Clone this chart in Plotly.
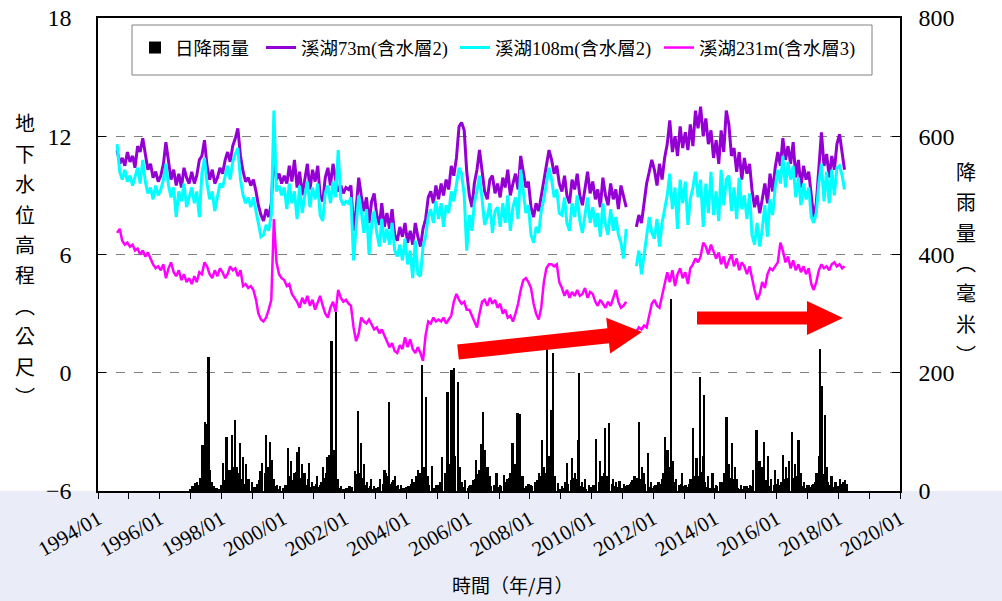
import pandas as pd
import plotly.graph_objects as go

# 月資料 (每月 15 日) 1994/08 ~ 2018/03，單位：公尺
well_73m = [
    11.3, 10.6, 10.9, 10.5, 11.2,
    10.7, 11.0, 10.4, 11.5, 11.2, 11.9, 11.0, 10.3, 10.6, 9.9, 10.2, 9.7,
    10.0, 10.6, 11.7, 10.8, 9.8, 10.3, 9.5, 10.1, 9.4, 10.4, 9.9, 9.6,
    10.2, 9.6, 10.0, 10.8, 11.0, 11.8, 10.5, 9.8, 10.3, 9.6, 9.9, 10.4,
    10.1, 10.8, 11.2, 10.7, 11.5, 11.9, 12.4, 11.0, 10.2, 9.7, 9.9, 9.5,
    9.8, 9.2, 8.5, 8.0, 7.7, 8.3, 7.9, 8.6, 11.1, 9.8, 10.1, 9.6,
    10.0, 9.6, 10.5, 9.7, 10.8, 9.4, 10.2, 9.0, 9.8, 10.6, 9.3, 10.3,
    9.7, 10.5, 9.0, 8.7, 9.9, 10.4, 9.5, 10.6, 9.8, 9.2, 9.5, 9.1,
    9.4, 9.3, 9.5, 7.2, 8.3, 9.9, 9.0, 8.2, 8.9, 7.6, 8.7, 9.1,
    8.0, 7.5, 8.6, 7.4, 8.1, 7.3, 8.3, 7.0, 6.7, 7.4, 6.9, 7.6,
    6.6, 7.2, 6.5, 7.6, 6.9, 6.4, 7.3, 7.8, 8.9, 9.2, 8.6, 9.5,
    8.8, 9.6, 9.0, 9.8, 9.3, 10.5, 10.0, 10.9, 12.5, 12.7, 12.3, 10.2,
    9.0, 8.4, 9.6, 10.3, 11.3, 10.1, 9.2, 8.8, 9.8, 10.0, 9.1, 9.6,
    8.9, 9.9, 9.4, 10.3, 9.0, 9.6, 10.1, 9.3, 11.0, 10.2, 9.4, 9.7,
    8.4, 7.9, 8.6, 8.2, 9.0, 9.7, 10.4, 11.3, 10.8, 10.1, 10.5, 9.6,
    9.2, 10.0, 9.0, 8.6, 9.8, 9.3, 10.1, 9.0, 8.5, 9.4, 10.2, 9.1,
    9.7, 8.8, 9.3, 8.4, 9.9, 9.0, 8.5, 9.6, 8.8, 9.3, 8.3, 9.5,
    9.0, 8.4, None, None, None, 7.4, 8.0, 7.6, 8.5, 9.6, 10.2, 10.8,
    10.3, 9.5, 10.6, 9.8, 10.9, 11.6, 12.8, 11.2, 12.0, 11.0, 12.5, 11.4,
    12.2, 11.3, 12.6, 11.5, 13.3, 12.4, 13.5, 12.0, 12.9, 11.6, 12.3, 10.9,
    11.8, 10.6, 12.3, 11.2, 13.3, 12.6, 11.0, 11.4, 10.2, 11.2, 9.8, 10.9,
    10.1, 10.6, 9.3, 8.4, 9.0, 8.1, 8.8, 9.6, 8.6, 10.1, 9.2, 10.4,
    11.2, 10.5, 11.9, 10.8, 11.5, 10.6, 11.7, 9.9, 10.8, 9.4, 10.5, 9.8,
    10.2, 8.8, 7.9, 8.6, 10.4, 12.2, 10.5, 11.1, 9.9, 11.0, 10.3, 11.6,
    12.1, 11.0, 10.3,
]

well_108m = [
    11.6, 10.2, 9.8, 10.3, 9.7,
    10.0, 9.5, 9.9, 10.4, 9.6, 10.8, 9.7, 9.1, 9.4, 8.8, 9.5, 9.0,
    9.3, 9.8, 10.6, 9.5, 8.9, 9.4, 7.9, 9.2, 8.7, 9.6, 8.4, 8.9,
    9.4, 8.6, 9.2, 7.9, 10.1, 10.9, 9.6, 8.8, 9.2, 8.2, 9.0, 9.6,
    9.4, 10.0, 10.5, 9.8, 10.7, 11.1, 11.4, 9.8, 9.0, 8.6, 8.9, 8.4,
    8.9, 8.2, 7.6, 6.9, 7.0, 7.5, 7.2, 8.0, 13.3, 9.2, 9.5, 9.0,
    9.4, 8.3, 9.6, 8.6, 9.2, 7.8, 9.5, 8.1, 9.0, 9.7, 8.4, 9.4,
    8.8, 9.6, 8.0, 7.7, 9.1, 9.5, 8.6, 9.7, 8.9, 11.3, 8.8, 8.5,
    8.7, 8.6, 8.9, 5.7, 7.4, 9.0, 8.2, 7.1, 8.3, 6.0, 7.5, 8.2,
    7.1, 6.4, 7.8, 6.6, 7.3, 6.5, 7.6, 6.2, 5.9, 6.5, 5.7, 6.8,
    5.5, 6.2, 4.8, 6.7, 5.0, 4.9, 6.4, 6.9, 7.9, 8.3, 7.6, 8.7,
    7.8, 8.6, 7.4, 8.5, 8.1, 9.2, 8.7, 9.6, 10.4, 10.1, 9.0, 6.2,
    8.0, 7.2, 8.6, 9.2, 10.0, 8.8, 7.5, 7.9, 8.6, 7.1, 8.2, 8.4,
    7.4, 8.6, 7.6, 9.0, 7.2, 8.4, 8.9, 7.8, 10.3, 9.2, 8.1, 8.5,
    7.0, 6.6, 7.4, 7.1, 8.2, 8.8, 9.6, 10.4, 9.8, 8.9, 9.3, 8.1,
    8.0, 8.9, 7.6, 7.2, 8.6, 7.9, 9.0, 7.7, 7.1, 8.0, 8.9, 7.6,
    8.4, 7.4, 8.1, 6.9, 8.6, 7.5, 7.0, 8.3, 7.2, 7.9, 7.0, 6.6,
    5.8, 7.3, None, None, None, 5.4, 6.2, 5.0, 6.0, 6.7, 7.9, 7.1,
    6.8, 7.8, 6.4, 7.6, 8.2, 9.0, 10.1, 8.3, 9.4, 7.3, 9.8, 8.6,
    9.7, 7.5, 8.8, 9.4, 10.2, 8.9, 9.8, 7.4, 9.6, 8.1, 10.2, 8.0,
    9.2, 7.7, 10.3, 8.5, 9.8, 10.0, 8.2, 9.4, 7.8, 9.9, 8.3, 9.0,
    7.8, 9.1, 7.0, 6.5, 7.6, 6.4, 7.3, 8.5, 6.9, 8.8, 8.0, 9.4,
    10.3, 9.6, 11.0, 9.4, 10.7, 9.8, 10.5, 8.9, 9.9, 8.5, 9.6, 8.8,
    9.4, 7.9, 7.6, 8.1, 9.6, 10.6, 8.7, 10.2, 8.6, 10.3, 9.0, 10.4,
    10.5, 10.0, 9.3,
]

well_231m = [
    7.1, 7.3, 6.7, 6.5, 6.6,
    6.4, 6.5, 6.2, 6.3, 6.0, 6.2, 5.9, 6.1, 5.8, 5.5, 5.3, 5.4,
    5.2, 5.5, 4.8, 5.3, 5.6, 5.1, 4.9, 5.2, 4.7, 5.0, 4.6, 4.8,
    4.5, 4.9, 4.6, 5.1, 5.0, 5.6, 5.4, 5.0, 4.8, 5.2, 4.9, 5.3,
    5.1, 4.8, 5.0, 5.4, 5.2, 5.3, 4.9, 5.2, 4.4, 4.5, 4.3, 4.4,
    4.2, 3.7, 3.0, 2.7, 2.6, 2.8, 3.2, 3.7, 7.8, 5.6, 5.0, 4.8,
    4.7, 4.4, 4.5, 4.0, 3.8, 3.6, 3.3, 3.8, 3.5, 3.9, 3.4, 3.7,
    3.2, 3.6, 3.9, 3.4, 3.0, 2.8, 3.3, 3.6, 3.1, 4.2, 3.8, 3.6,
    3.7, 3.5, 3.4, 2.3, 1.6, 2.0, 2.8, 2.6, 2.5, 2.7, 2.4, 2.2,
    2.3, 2.0, 2.2, 1.9, 1.6, 1.3, 1.5, 1.1, 1.0, 1.4, 1.2, 1.8,
    1.3, 1.7, 1.2, 1.0, 1.3, 1.0, 0.6, 1.9, 2.6, 2.5, 2.8, 2.6,
    2.7, 2.6, 2.8, 2.5, 2.7, 2.9, 3.6, 4.0, 3.7, 3.5, 3.6, 3.2,
    3.2, 2.9, 2.6, 2.3, 3.0, 3.6, 3.7, 3.4, 3.8, 3.5, 3.7, 3.3,
    3.5, 3.0, 3.2, 2.8, 2.9, 2.6, 3.0, 3.5, 4.2, 4.7, 4.8, 4.6,
    4.3, 3.5, 3.0, 2.7, 3.3, 4.6, 5.3, 5.5, 5.5, 5.4, 5.5, 4.6,
    4.3, 3.9, 4.2, 3.8, 4.1, 3.9, 4.2, 3.9, 4.0, 4.3, 3.8, 4.1,
    4.0, 3.6, 3.4, 3.7, 3.5, 3.3, 3.6, 3.4, 3.8, 4.2, 3.6, 3.3,
    3.4, 3.6, None, None, None, 2.1, 2.3, 2.2, 2.4, 2.3, 2.9, 3.5,
    3.7, 3.4, 3.3, 3.9, 4.5, 5.1, 4.6, 5.2, 4.4, 5.0, 5.3, 4.8,
    5.1, 4.5, 5.3, 5.5, 5.8, 5.6, 5.9, 6.6, 6.4, 6.0, 6.5, 6.2,
    5.8, 6.1, 5.5, 5.9, 5.3, 5.7, 6.0, 5.4, 5.8, 5.2, 5.6, 5.4,
    5.0, 5.4, 4.8, 4.2, 3.7, 4.0, 4.6, 4.3, 5.0, 5.3, 5.2, 5.4,
    5.6, 6.6, 6.2, 5.6, 5.9, 5.3, 5.7, 5.2, 5.5, 5.1, 5.4, 5.0,
    5.3, 4.5, 4.2, 4.6, 5.2, 5.5, 5.3, 5.4, 5.2, 5.5, 5.6, 5.4,
    5.5, 5.3, 5.4,
]

# 日降雨量 (毫米)：較大的降雨事件
rain_dates = [
    "1997-01-20", "1997-02-25", "1997-03-20", "1997-04-15", "1997-05-10", "1997-05-25",
    "1997-06-05", "1997-06-20", "1997-07-01", "1997-07-15", "1997-08-05", "1997-08-20",
    "1997-09-10", "1997-10-05", "1997-11-10",
    "1998-01-20", "1998-03-05", "1998-04-10", "1998-05-05", "1998-06-10", "1998-07-05",
    "1998-08-08", "1998-09-15", "1998-10-20", "1998-11-20", "1998-12-28",
    "1999-01-20", "1999-03-10", "1999-04-05", "1999-05-01", "1999-06-15", "1999-07-10",
    "1999-08-01", "1999-08-22", "1999-09-20", "1999-10-25", "1999-12-01",
    "2000-01-15", "2000-03-01", "2000-04-10", "2000-05-10", "2000-06-15", "2000-07-10",
    "2000-08-15", "2000-09-15", "2000-11-05", "2000-12-10",
    "2001-02-05", "2001-03-15", "2001-04-20", "2001-06-05", "2001-07-01", "2001-07-30",
    "2001-08-15", "2001-09-05", "2001-09-25", "2001-10-10", "2001-11-20",
    "2002-01-20", "2002-03-10", "2002-05-01", "2002-06-05", "2002-07-15", "2002-08-20",
    "2002-09-20", "2002-11-15", "2002-12-20",
    "2003-01-10", "2003-03-01", "2003-04-20", "2003-05-10", "2003-06-15", "2003-07-20",
    "2003-08-20", "2003-09-25", "2003-11-01",
    "2004-01-20", "2004-03-10", "2004-04-25", "2004-05-20", "2004-06-10", "2004-07-02",
    "2004-07-25", "2004-08-25", "2004-09-20", "2004-11-01", "2004-12-15",
    "2005-01-15", "2005-02-25", "2005-04-10", "2005-05-05", "2005-06-10", "2005-06-20",
    "2005-07-18", "2005-08-05", "2005-09-01", "2005-09-25", "2005-10-20", "2005-12-01",
    "2006-01-20", "2006-03-10", "2006-04-10", "2006-05-15", "2006-06-10", "2006-06-25",
    "2006-07-20", "2006-08-20", "2006-09-20", "2006-11-05", "2006-12-05",
    "2007-01-15", "2007-03-01", "2007-04-10", "2007-05-10", "2007-06-12", "2007-07-10",
    "2007-08-10", "2007-09-10", "2007-10-10", "2007-11-20", "2007-12-20",
    "2008-01-20", "2008-03-10", "2008-04-20", "2008-05-28", "2008-06-20", "2008-07-25",
    "2008-08-20", "2008-09-14", "2008-10-02", "2008-10-25", "2008-12-01",
    "2009-01-20", "2009-03-15", "2009-05-15", "2009-06-20", "2009-07-25", "2009-08-08",
    "2009-09-10", "2009-10-20", "2009-12-01",
    "2010-01-20", "2010-03-01", "2010-04-10", "2010-05-10", "2010-06-15", "2010-07-30",
    "2010-09-10", "2010-10-20", "2010-12-01",
    "2011-01-20", "2011-03-10", "2011-04-20", "2011-05-25", "2011-07-15", "2011-08-20",
    "2011-09-20", "2011-10-30", "2011-12-05",
    "2012-01-20", "2012-03-10", "2012-04-20", "2012-05-20", "2012-06-20", "2012-07-10",
    "2012-08-03", "2012-08-25", "2012-09-25", "2012-12-05",
    "2013-01-20", "2013-03-10", "2013-04-15", "2013-05-30", "2013-07-15", "2013-08-15",
    "2013-08-31", "2013-10-10", "2013-12-05",
    "2014-01-20", "2014-03-10", "2014-04-20", "2014-05-20", "2014-06-20", "2014-07-20",
    "2014-08-25", "2014-09-20", "2014-11-10", "2014-12-20",
    "2015-01-20", "2015-02-20", "2015-04-01", "2015-05-10", "2015-06-15", "2015-07-20",
    "2015-08-10", "2015-09-20", "2015-10-25", "2015-12-20",
    "2016-01-20", "2016-03-15", "2016-04-20", "2016-05-25", "2016-07-01", "2016-08-05",
    "2016-09-20", "2016-10-20", "2016-11-20", "2016-12-25",
    "2017-01-20", "2017-03-10", "2017-04-20", "2017-05-25", "2017-06-03", "2017-06-25",
    "2017-07-30", "2017-08-25", "2017-10-15", "2017-12-01",
    "2018-01-20", "2018-02-25", "2018-03-25", "2018-04-15",
]
rain_mm = [
    8, 12, 15, 10, 20, 78, 40, 117, 86, 55, 227, 36, 15, 8, 5,
    47, 92, 35, 95, 120, 40, 81, 58, 45, 20, 15,
    5, 10, 33, 28, 95, 40, 58, 52, 20, 10, 5,
    5, 53, 50, 30, 66, 75, 45, 30, 48, 15,
    25, 10, 40, 58, 35, 253, 45, 70, 303, 20, 8,
    5, 8, 15, 136, 81, 45, 15, 20, 8,
    5, 10, 35, 30, 151, 15, 25, 10, 8,
    8, 20, 25, 35, 30, 213, 40, 159, 25, 30, 10,
    10, 58, 30, 168, 120, 205, 208, 60, 160, 40, 15, 10,
    8, 15, 53, 35, 80, 134, 70, 40, 25, 10, 30,
    10, 15, 20, 30, 81, 45, 132, 130, 25, 8, 12,
    10, 15, 30, 86, 40, 242, 60, 137, 234, 25, 10,
    8, 47, 56, 30, 86, 200, 15, 20, 8,
    10, 66, 50, 25, 107, 115, 20, 15, 12,
    12, 10, 15, 25, 117, 40, 30, 64, 15,
    8, 15, 20, 92, 70, 40, 324, 50, 20, 30,
    10, 20, 107, 55, 193, 60, 163, 25, 30,
    10, 15, 30, 126, 45, 81, 40, 20, 10, 8,
    8, 10, 25, 103, 50, 40, 83, 60, 20, 35,
    20, 61, 40, 50, 75, 45, 86, 30, 15, 10,
    10, 12, 30, 60, 241, 177, 129, 40, 25, 10,
    20, 15, 18, 12,
]

# 日降雨量 (毫米)：每月月初的小雨量，1997/01 ~ 2018/04
rain_base_mm = [
    4, 9, 14, 10, 22, 35, 28, 30, 12, 6, 5, 3,
    10, 18, 22, 15, 28, 40, 25, 30, 20, 12, 8, 6,
    3, 6, 12, 18, 20, 30, 22, 25, 10, 8, 4, 3,
    5, 10, 20, 25, 18, 32, 28, 22, 15, 10, 20, 6,
    8, 12, 6, 15, 22, 30, 26, 35, 18, 10, 5, 4,
    3, 5, 8, 6, 18, 28, 30, 22, 10, 5, 8, 4,
    4, 6, 10, 12, 20, 26, 12, 18, 8, 4, 3, 5,
    6, 8, 12, 15, 20, 30, 28, 35, 15, 10, 12, 5,
    8, 15, 20, 22, 30, 45, 40, 32, 25, 10, 6, 8,
    5, 10, 18, 20, 28, 40, 30, 25, 15, 8, 6, 10,
    6, 8, 12, 15, 22, 30, 25, 28, 20, 10, 5, 6,
    5, 8, 10, 18, 25, 35, 30, 22, 18, 12, 6, 4,
    3, 5, 15, 12, 18, 22, 20, 28, 8, 6, 4, 3,
    6, 10, 22, 15, 20, 30, 25, 20, 12, 8, 6, 5,
    5, 8, 10, 12, 18, 25, 22, 20, 15, 12, 8, 6,
    5, 10, 15, 12, 30, 35, 28, 25, 15, 8, 10, 12,
    8, 6, 12, 20, 25, 30, 26, 32, 15, 6, 5, 8,
    5, 8, 12, 15, 25, 30, 22, 20, 12, 5, 4, 3,
    3, 5, 8, 10, 22, 25, 20, 30, 18, 8, 6, 10,
    12, 10, 15, 20, 22, 28, 25, 22, 25, 12, 8, 5,
    5, 6, 10, 15, 25, 35, 28, 22, 15, 10, 6, 5,
    8, 12, 10, 8,
]

month_dates = pd.date_range("1994-08-01", periods=len(well_73m), freq="MS") + pd.Timedelta(days=14)
base_dates = pd.date_range("1997-01-01", periods=len(rain_base_mm), freq="MS")
bar_x = list(base_dates) + list(pd.to_datetime(rain_dates))
bar_y = rain_base_mm + rain_mm

# 圖框位置 (像素)
PLOT_L, PLOT_R, PLOT_T, PLOT_B = 98, 900, 18, 491
SERIF = "Liberation Serif, Noto Sans CJK TC"
CJK = "Noto Sans CJK TC"


def px_to_paper(x, y):
    return (x - PLOT_L) / (PLOT_R - PLOT_L), (PLOT_B - y) / (PLOT_B - PLOT_T)


def arrow_path(tail, tip, shaft_half, head_half, head_len):
    """紅色箭頭的多邊形路徑 (paper 座標)."""
    dx, dy = tip[0] - tail[0], tip[1] - tail[1]
    length = (dx * dx + dy * dy) ** 0.5
    ux, uy = dx / length, dy / length
    nx, ny = -uy, ux
    bx, by = tip[0] - ux * head_len, tip[1] - uy * head_len
    pts = [
        (tail[0] + nx * shaft_half, tail[1] + ny * shaft_half),
        (bx + nx * shaft_half, by + ny * shaft_half),
        (bx + nx * head_half, by + ny * head_half),
        tip,
        (bx - nx * head_half, by - ny * head_half),
        (bx - nx * shaft_half, by - ny * shaft_half),
        (tail[0] - nx * shaft_half, tail[1] - ny * shaft_half),
    ]
    coords = [px_to_paper(x, y) for x, y in pts]
    return "M " + " L ".join(f"{x:.4f},{y:.4f}" for x, y in coords) + " Z"


fig = go.Figure()
fig.add_trace(
    go.Bar(
        x=bar_x,
        y=bar_y,
        name="日降雨量",
        marker={"color": "black", "line": {"width": 0}},
        width=20 * 86400000,
        yaxis="y2",
        legend="legend",
    )
)
fig.add_trace(
    go.Scatter(x=month_dates, y=well_73m, mode="lines", name="溪湖73m(含水層2)",
               line={"color": "#9400D3", "width": 3}, legend="legend2")
)
fig.add_trace(
    go.Scatter(x=month_dates, y=well_108m, mode="lines", name="溪湖108m(含水層2)",
               line={"color": "#00FFFF", "width": 3}, legend="legend3")
)
fig.add_trace(
    go.Scatter(x=month_dates, y=well_231m, mode="lines", name="溪湖231m(含水層3)",
               line={"color": "#FF00FF", "width": 2.5}, legend="legend4")
)

shapes = [
    # 背景淡藍色 (圖框下方)
    {"type": "rect", "xref": "paper", "yref": "paper", "layer": "below",
     "x0": -0.2, "x1": 1.2, "y0": px_to_paper(0, 601)[1], "y1": px_to_paper(0, 491)[1],
     "fillcolor": "#eaedf8", "line": {"width": 0}},
    # 圖例外框
    {"type": "rect", "xref": "paper", "yref": "paper",
     "x0": px_to_paper(132, 0)[0], "x1": px_to_paper(872, 0)[0],
     "y0": px_to_paper(0, 75)[1], "y1": px_to_paper(0, 25)[1],
     "fillcolor": "white", "line": {"color": "#808080", "width": 1}, "layer": "below"},
    # 紅色箭頭
    {"type": "path", "xref": "paper", "yref": "paper",
     "path": arrow_path((458, 352), (642, 332), 7.5, 18, 34),
     "fillcolor": "#FF0000", "line": {"width": 0}},
    {"type": "path", "xref": "paper", "yref": "paper",
     "path": arrow_path((697, 318), (843, 318), 6.5, 17, 36),
     "fillcolor": "#FF0000", "line": {"width": 0}},
    # 上方紅色標誌 (截斷)
    {"type": "circle", "xref": "paper", "yref": "paper",
     "x0": px_to_paper(474, 0)[0], "x1": px_to_paper(500, 0)[0],
     "y0": px_to_paper(0, -4)[1], "y1": px_to_paper(0, -30)[1],
     "fillcolor": "#FF0000", "line": {"width": 0}},
]

annotations = []
left_title = ["地", "下", "水", "位", "高", "程", "︵", "公", "尺", "︶"]
for i, ch in enumerate(left_title):
    annotations.append({
        "text": ch, "xref": "paper", "yref": "paper",
        "x": px_to_paper(25, 0)[0], "y": px_to_paper(0, 123 + i * 30.4)[1],
        "showarrow": False, "font": {"family": CJK, "size": 20, "color": "black"},
        "xanchor": "center", "yanchor": "middle",
    })
right_title = ["降", "雨", "量", "︵", "毫", "米", "︶"]
for i, ch in enumerate(right_title):
    annotations.append({
        "text": ch, "xref": "paper", "yref": "paper",
        "x": px_to_paper(966, 0)[0], "y": px_to_paper(0, 171 + i * 30.5)[1],
        "showarrow": False, "font": {"family": CJK, "size": 20, "color": "black"},
        "xanchor": "center", "yanchor": "middle",
    })
annotations.append({
    "text": "時間（年/月）", "xref": "paper", "yref": "paper",
    "x": px_to_paper(512, 0)[0], "y": px_to_paper(0, 584)[1],
    "showarrow": False, "font": {"family": CJK, "size": 19, "color": "black"},
    "xanchor": "center", "yanchor": "middle",
})


def legend_at(x_px):
    return {
        "orientation": "h", "x": px_to_paper(x_px, 0)[0], "xanchor": "left",
        "y": px_to_paper(0, 48)[1], "yanchor": "middle",
        "bgcolor": "rgba(0,0,0,0)", "borderwidth": 0,
        "font": {"family": SERIF, "size": 18.5, "color": "black"},
        "itemwidth": 30,
    }


fig.update_layout(
    width=1002,
    height=601,
    margin={"l": PLOT_L, "r": 1002 - PLOT_R, "t": PLOT_T, "b": 601 - PLOT_B},
    paper_bgcolor="white",
    plot_bgcolor="white",
    showlegend=True,
    legend=legend_at(135),
    legend2=legend_at(261),
    legend3=legend_at(455),
    legend4=legend_at(659),
    bargap=0,
    shapes=shapes,
    annotations=annotations,
    xaxis={
        "type": "date",
        "range": ["1994-01-01", "2020-01-01"],
        "tick0": "1994-01-01", "dtick": "M24", "tickformat": "%Y/%m",
        "tickangle": -30, "ticks": "outside", "ticklen": 6, "tickcolor": "black",
        "minor": {"dtick": "M12", "ticks": "outside", "ticklen": 6, "tickcolor": "black"},
        "showgrid": False, "showline": True, "linecolor": "black", "linewidth": 1.5,
        "mirror": True, "zeroline": False, "automargin": False,
        "tickfont": {"family": SERIF, "size": 21, "color": "black"},
    },
    yaxis={
        "range": [-6, 18], "dtick": 6, "tick0": -6,
        "ticks": "inside", "ticklen": 8, "tickcolor": "black",
        "showline": True, "linecolor": "black", "linewidth": 1.5,
        "showgrid": True, "gridcolor": "#808080", "griddash": "dash", "gridwidth": 1,
        "zeroline": False, "automargin": False,
        "tickfont": {"family": SERIF, "size": 24, "color": "black"},
        "ticklabelstandoff": 20,
    },
    yaxis2={
        "range": [0, 800], "dtick": 200, "overlaying": "y", "side": "right",
        "ticks": "inside", "ticklen": 8, "tickcolor": "black",
        "showline": True, "linecolor": "black", "linewidth": 1.5,
        "showgrid": False, "zeroline": False, "automargin": False,
        "tickfont": {"family": SERIF, "size": 24, "color": "black"},
        "ticklabelstandoff": 12,
    },
)

fig.write_html(
    "out.html",
    config={"displayModeBar": False},
    post_script="document.body.style.margin = '0px';",
)
